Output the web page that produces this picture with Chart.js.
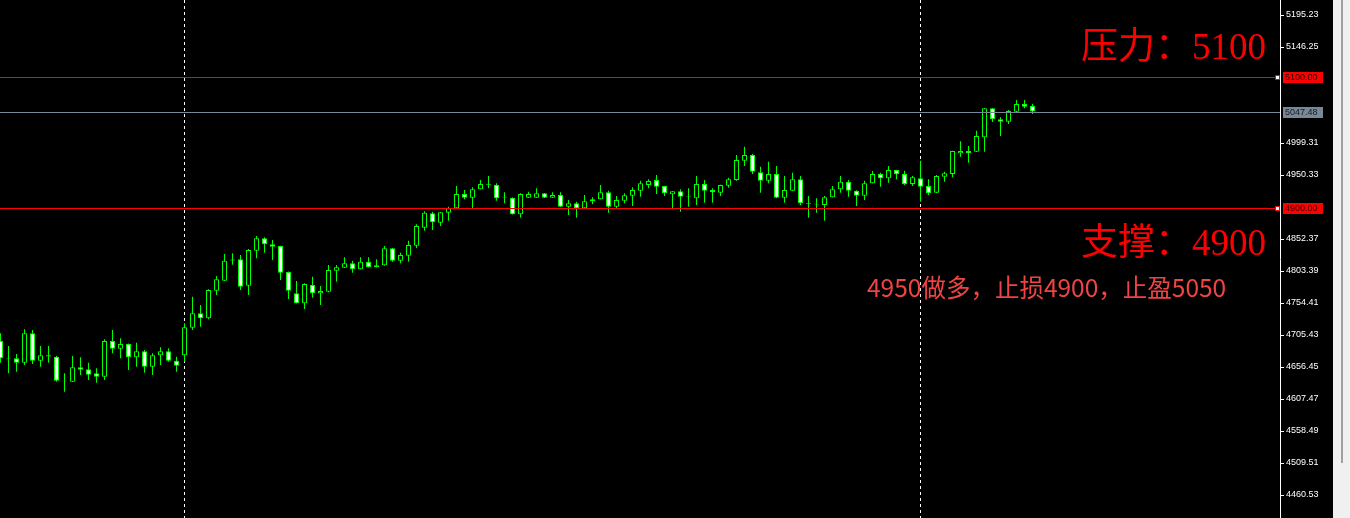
<!DOCTYPE html>
<html>
<head>
<meta charset="utf-8">
<script src="https://cdn.jsdelivr.net/npm/chart.js@4.4.1/dist/chart.umd.min.js"></script>
<style>
    html, body { margin: 0; padding: 0; width: 1350px; height: 518px; overflow: hidden; background: #f0f0f0; }
    #wrap { position: absolute; left: 0; top: 0; width: 1333px; height: 518px; background: #000; }
    #scroll { position: absolute; left: 1341px; top: 0; width: 2px; height: 463px; background: #a0a0a0; }
    .note { position: absolute; white-space: nowrap; line-height: 1; }
    #pressure { left: 1081px; top: 16px; font: 37px "Liberation Serif", "Noto Sans CJK SC"; color: #ff0000; }
    #support { left: 1081px; top: 212px; font: 37px "Liberation Serif", "Noto Sans CJK SC"; color: #ff0000; }
    #plan { left: 867px; top: 269px; font: 24.5px "Noto Sans CJK SC"; color: #f04444; }
</style>
</head>
<body>
<div id="wrap"><canvas id="chart" width="1333" height="518"></canvas></div>
<div id="scroll"></div>
<div class="note" id="pressure">压力：5100</div>
<div class="note" id="support">支撑：4900</div>
<div class="note" id="plan">4950做多，止损4900，止盈5050</div>
<script>
// XAUUSD M15 candles
const opens = [
    4696.7, 4670.3, 4669.8, 4663.0, 4708.0, 4666.1, 4674.4, 4672.2, 4635.5, 4634.0,
    4656.0, 4652.9, 4646.8, 4641.6, 4696.3, 4684.5, 4691.7, 4671.3, 4680.5, 4656.9,
    4674.4, 4680.5, 4666.1, 4674.4, 4716.6, 4738.7, 4731.0, 4773.2, 4788.6, 4821.0,
    4821.3, 4780.9, 4834.5, 4853.4, 4844.3, 4841.6, 4801.9, 4769.3, 4754.0, 4782.0,
    4769.3, 4771.7, 4803.9, 4808.5, 4815.2, 4806.0, 4817.6, 4809.1, 4812.1, 4838.2,
    4819.2, 4826.8, 4842.1, 4869.7, 4891.7, 4877.4, 4892.6, 4899.4, 4921.2, 4915.6,
    4928.4, 4936.0, 4935.0, 4916.0, 4915.6, 4890.2, 4915.6, 4915.6, 4922.3, 4915.6,
    4919.7, 4901.8, 4907.0, 4899.4, 4910.1, 4913.2, 4923.9, 4901.8, 4911.0, 4918.7,
    4926.3, 4935.0, 4942.7, 4933.5, 4920.8, 4925.4, 4917.6, 4914.7, 4936.6, 4927.4,
    4923.2, 4934.0, 4942.7, 4972.2, 4980.9, 4954.5, 4941.6, 4951.9, 4915.6, 4926.3,
    4943.8, 4907.5, 4905.0, 4904.4, 4916.2, 4928.4, 4940.1, 4926.3, 4918.7, 4937.6,
    4951.9, 4945.3, 4958.0, 4951.9, 4936.6, 4945.3, 4933.5, 4923.2, 4947.7, 4951.9,
    4983.5, 4987.1, 4986.0, 5008.0, 5052.4, 5035.6, 5031.9, 5047.2, 5059.0, 5056.0,
];
const highs = [
    4708.0, 4688.6, 4676.4, 4714.2, 4713.1, 4688.6, 4688.6, 4673.3, 4646.8, 4673.3,
    4671.3, 4663.0, 4654.5, 4698.9, 4713.1, 4700.4, 4692.5, 4693.7, 4682.5, 4677.4,
    4686.6, 4685.1, 4672.2, 4723.3, 4764.1, 4751.4, 4775.4, 4795.7, 4829.4, 4830.5,
    4827.9, 4837.1, 4857.0, 4855.0, 4850.9, 4842.0, 4802.5, 4788.1, 4784.6, 4794.7,
    4780.4, 4812.6, 4812.6, 4824.4, 4819.2, 4824.4, 4824.4, 4821.3, 4841.6, 4838.7,
    4831.4, 4849.8, 4875.0, 4895.0, 4894.2, 4893.7, 4901.8, 4933.5, 4927.4, 4931.5,
    4942.7, 4948.8, 4937.6, 4923.9, 4916.0, 4922.3, 4924.8, 4930.0, 4922.8, 4923.9,
    4923.9, 4912.1, 4909.5, 4919.7, 4916.2, 4935.0, 4926.3, 4918.2, 4922.3, 4931.5,
    4941.6, 4943.8, 4950.3, 4934.0, 4925.9, 4928.4, 4930.0, 4948.8, 4942.7, 4930.0,
    4935.5, 4946.2, 4980.9, 4993.6, 4982.5, 4963.0, 4970.7, 4964.1, 4948.8, 4953.9,
    4948.8, 4918.2, 4914.7, 4918.2, 4933.5, 4948.8, 4942.7, 4926.8, 4941.6, 4956.5,
    4953.9, 4964.1, 4958.5, 4956.9, 4948.8, 4972.2, 4943.8, 4950.3, 4955.4, 4987.6,
    5001.8, 4994.7, 5018.1, 5052.9, 5052.9, 5038.6, 5049.8, 5065.1, 5065.1, 5059.0,
];
const lows = [
    4663.0, 4646.8, 4649.3, 4659.5, 4661.0, 4656.9, 4663.0, 4634.0, 4618.6, 4633.5,
    4644.2, 4636.6, 4632.4, 4636.6, 4677.4, 4669.8, 4651.9, 4656.9, 4647.7, 4644.2,
    4659.5, 4664.5, 4649.3, 4664.5, 4713.1, 4718.2, 4729.5, 4766.7, 4788.0, 4813.0,
    4774.3, 4766.7, 4822.8, 4831.4, 4820.2, 4789.6, 4760.5, 4753.5, 4745.2, 4762.5,
    4751.4, 4771.0, 4787.0, 4808.0, 4800.8, 4805.5, 4808.6, 4808.6, 4811.6, 4817.6,
    4815.2, 4817.6, 4838.6, 4865.0, 4866.0, 4872.3, 4880.4, 4899.0, 4913.2, 4899.4,
    4928.0, 4930.0, 4911.0, 4907.0, 4890.0, 4885.0, 4915.2, 4915.2, 4915.2, 4915.2,
    4901.4, 4889.1, 4885.0, 4899.0, 4905.5, 4912.8, 4892.6, 4899.4, 4907.0, 4902.9,
    4917.1, 4930.0, 4921.2, 4918.2, 4897.8, 4894.2, 4901.8, 4904.4, 4907.9, 4907.9,
    4918.2, 4930.9, 4941.6, 4964.1, 4951.9, 4923.2, 4937.6, 4914.7, 4907.9, 4925.8,
    4904.4, 4885.0, 4892.6, 4880.4, 4915.8, 4923.2, 4917.1, 4902.9, 4912.1, 4937.2,
    4932.4, 4938.6, 4943.8, 4935.0, 4933.5, 4909.5, 4919.7, 4922.8, 4940.1, 4946.8,
    4978.3, 4969.2, 4985.6, 4986.0, 5031.4, 5010.0, 5028.4, 5046.8, 5052.4, 5043.7,
];
const closes = [
    4669.8, 4669.3, 4663.0, 4708.0, 4666.1, 4674.4, 4672.6, 4635.5, 4634.8, 4656.0,
    4652.3, 4644.7, 4641.6, 4696.3, 4684.5, 4691.7, 4671.3, 4680.5, 4656.9, 4674.4,
    4680.5, 4666.1, 4658.4, 4717.2, 4738.7, 4731.0, 4774.3, 4790.7, 4819.2, 4819.5,
    4779.4, 4835.5, 4853.4, 4844.3, 4840.6, 4800.8, 4773.2, 4754.0, 4783.5, 4769.3,
    4772.8, 4804.9, 4809.1, 4815.2, 4806.0, 4817.6, 4809.1, 4812.1, 4838.2, 4819.2,
    4827.9, 4843.2, 4872.3, 4892.6, 4877.9, 4893.2, 4899.4, 4921.2, 4915.6, 4928.4,
    4936.6, 4935.0, 4914.7, 4915.2, 4890.2, 4921.2, 4921.2, 4922.3, 4915.6, 4919.7,
    4901.8, 4907.0, 4899.4, 4910.1, 4913.2, 4923.9, 4901.8, 4912.1, 4919.3, 4927.4,
    4937.6, 4941.2, 4932.4, 4922.3, 4925.4, 4917.1, 4916.8, 4936.6, 4926.3, 4923.9,
    4935.0, 4943.8, 4973.3, 4980.9, 4955.4, 4941.6, 4951.9, 4915.6, 4927.4, 4943.8,
    4907.0, 4906.5, 4904.0, 4916.2, 4928.4, 4940.1, 4926.3, 4918.7, 4937.6, 4951.9,
    4945.3, 4958.0, 4951.4, 4936.6, 4946.8, 4932.4, 4922.3, 4948.8, 4952.9, 4987.1,
    4987.1, 4983.5, 5010.0, 5052.4, 5035.6, 5031.9, 5048.3, 5059.0, 5054.9, 5047.48,
];

// candle index where a new trading day starts (dashed separators)
const dayStarts = [23, 115];
// horizontal objects drawn on the chart
const resistance = 5100;
const support = 4900;
// right axis tick labels
const tickLabels = [
    5195.23, 5146.25, 4999.31, 4950.33, 4852.37, 4803.39, 4754.41,
    4705.43, 4656.45, 4607.47, 4558.49, 4509.51, 4460.53,
];

const slots = 160; // visible bar slots incl. right shift
const bid = closes[closes.length - 1];

const bodyData = opens.map((o, i) => ({ x: i, y: [o, closes[i]] }));
const wickData = lows.map((l, i) => ({ x: i, y: [l, highs[i]] }));
const bodyFill = opens.map((o, i) => (closes[i] >= o ? "#000000" : "#ffffff"));

const chartLines = {
    id: "chartLines",
    beforeDatasetsDraw(chart) {
        const { ctx, chartArea, scales } = chart;
        ctx.save();
        ctx.strokeStyle = "#ffffff";
        ctx.lineWidth = 1;
        ctx.setLineDash([3, 3]);
        dayStarts.forEach(i => {
            const px = Math.floor(scales.x.getPixelForValue(i)) + 0.5;
            ctx.beginPath();
            ctx.moveTo(px, chartArea.top);
            ctx.lineTo(px, chartArea.bottom);
            ctx.stroke();
        });
        ctx.restore();
    },
    afterDatasetsDraw(chart) {
        const { ctx, chartArea, scales } = chart;
        ctx.save();
        ctx.lineWidth = 1;
        const hline = (v, color) => {
            const py = Math.round(scales.y.getPixelForValue(v)) + 0.5;
            ctx.strokeStyle = color;
            ctx.beginPath();
            ctx.moveTo(chartArea.left, py);
            ctx.lineTo(chartArea.right, py);
            ctx.stroke();
        };
        hline(bid, "#778899");
        hline(resistance, "#ff0000");
        hline(support, "#ff0000");
        ctx.restore();
    },
    afterDraw(chart) {
        const { ctx, chartArea, scales } = chart;
        ctx.save();
        ctx.font = "9px 'Liberation Sans'";
        ctx.textBaseline = "middle";
        const tag = (v, bg, fg, marker) => {
            const py = Math.round(scales.y.getPixelForValue(v));
            ctx.fillStyle = bg;
            ctx.fillRect(chartArea.right + 3, py - 5, 40, 11);
            ctx.fillStyle = fg;
            ctx.fillText(v.toFixed(2), chartArea.right + 5, py + 0.5);
            if (marker) {
                ctx.fillStyle = "#ff0000";
                ctx.fillRect(chartArea.right - 5, py - 2, 5, 5);
                ctx.fillStyle = "#ffffff";
                ctx.fillRect(chartArea.right - 4, py - 1, 3, 3);
            }
        };
        tag(resistance, "#ff0000", "#300000", true);
        tag(support, "#ff0000", "#300000", true);
        tag(bid, "#778899", "#1a1a1a", false);
        ctx.restore();
    },
};

new Chart(document.getElementById("chart"), {
    type: "bar",
    data: {
        datasets: [
            {
                label: "body",
                data: bodyData,
                backgroundColor: bodyFill,
                borderColor: "#00ff00",
                borderWidth: 1,
                borderSkipped: false,
                barThickness: 5,
                grouped: false,
                inflateAmount: 0,
                order: 0,
            },
            {
                label: "wick",
                data: wickData,
                backgroundColor: "#00ff00",
                borderWidth: 0,
                barThickness: 1,
                grouped: false,
                inflateAmount: 0,
                order: 1,
            },
        ],
    },
    options: {
        responsive: false,
        animation: false,
        layout: { padding: 0 },
        plugins: {
            legend: { display: false },
            tooltip: { enabled: false },
        },
        scales: {
            x: {
                type: "linear",
                display: false,
                offset: false,
                min: -0.0625,
                max: slots - 0.0625,
            },
            y: {
                type: "linear",
                position: "right",
                min: 4425.33,
                max: 5218.19,
                afterBuildTicks: s => {
                    s.ticks = tickLabels.map(v => ({ value: v }));
                },
                afterFit: s => {
                    s.width = 53;
                    s.paddingTop = 0;
                    s.paddingBottom = 0;
                },
                grid: {
                    drawOnChartArea: false,
                    drawTicks: true,
                    tickLength: 4,
                    color: "#ffffff",
                },
                border: { display: true, color: "#ffffff", width: 1 },
                ticks: {
                    color: "#ffffff",
                    font: { family: "Liberation Sans", size: 9 },
                    padding: 2,
                    autoSkip: false,
                    maxRotation: 0,
                    callback: v => Number(v).toFixed(2),
                },
            },
        },
    },
    plugins: [chartLines],
});
</script>
</body>
</html>
